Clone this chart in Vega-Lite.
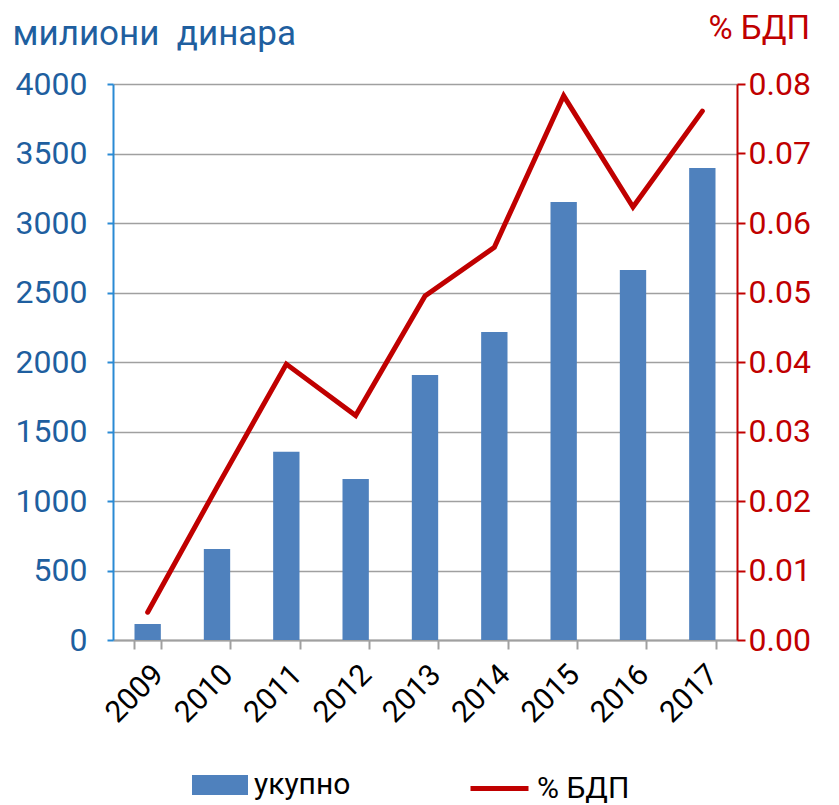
{
  "$schema": "https://vega.github.io/schema/vega-lite/v6.json",
  "width": 624,
  "height": 556,
  "autosize": {"type": "none"},
  "padding": {"left": 113, "top": 84, "right": 102, "bottom": 165},
  "background": "white",
  "config": {"font": "Roboto", "view": {"stroke": null}},
  "data": {
    "values": [
      {"year": "2009", "total": 115, "gdp": 0.004},
      {"year": "2010", "total": 655, "gdp": 0.022},
      {"year": "2011", "total": 1355, "gdp": 0.0397},
      {"year": "2012", "total": 1158, "gdp": 0.0323},
      {"year": "2013", "total": 1906, "gdp": 0.0495},
      {"year": "2014", "total": 2216, "gdp": 0.0565},
      {"year": "2015", "total": 3151, "gdp": 0.0783},
      {"year": "2016", "total": 2662, "gdp": 0.0623},
      {"year": "2017", "total": 3396, "gdp": 0.0761}
    ]
  },
  "encoding": {
    "x": {
      "field": "year",
      "type": "ordinal",
      "scale": {"paddingInner": 0.62, "paddingOuter": 0.31},
      "axis": {
        "title": null,
        "labelAngle": -45,
        "labelFontSize": 30,
        "labelColor": "black",
        "labelPadding": 10,
        "domainColor": "#A0A0A0",
        "domainWidth": 2,
        "tickColor": "#A0A0A0",
        "tickWidth": 2,
        "tickSize": 9,
        "tickBand": "extent",
        "grid": false
      }
    }
  },
  "layer": [
    {
      "mark": {"type": "bar"},
      "encoding": {
        "y": {
          "field": "total",
          "type": "quantitative",
          "scale": {"domain": [0, 4000], "nice": false},
          "axis": {
            "title": "милиони\u00a0 динара",
            "titleAngle": 0,
            "titleAlign": "left",
            "titleBaseline": "alphabetic",
            "titleX": -101,
            "titleY": -40,
            "titleFontSize": 35,
            "titleFontWeight": "normal",
            "titleColor": "#1F5F9F",
            "values": [0, 500, 1000, 1500, 2000, 2500, 3000, 3500, 4000],
            "format": "d",
            "labelFontSize": 32,
            "labelColor": "#1F5F9F",
            "labelPadding": 20,
            "domainColor": "#2A8AD4",
            "domainWidth": 2,
            "tickColor": "#2A8AD4",
            "tickWidth": 2,
            "tickSize": 6,
            "grid": true,
            "gridColor": "#A0A0A0",
            "gridWidth": 1.5
          }
        },
        "fill": {
          "datum": "укупно",
          "scale": {"domain": ["укупно"], "range": ["#4F81BD"]},
          "legend": {
            "orient": "none",
            "legendX": 79,
            "legendY": 673,
            "title": null,
            "symbolType": "M-1,-0.36H1V0.36H-1Z",
            "symbolSize": 3136,
            "symbolStrokeWidth": 0,
            "labelFontSize": 30,
            "labelColor": "black",
            "labelOffset": 6
          }
        }
      }
    },
    {
      "mark": {"type": "line", "strokeWidth": 5, "strokeCap": "round"},
      "encoding": {
        "y": {
          "field": "gdp",
          "type": "quantitative",
          "scale": {"domain": [0, 0.08], "nice": false},
          "axis": {
            "orient": "right",
            "title": "% БДП",
            "titleAngle": 0,
            "titleAlign": "left",
            "titleBaseline": "alphabetic",
            "titleX": -29,
            "titleY": -46,
            "titleFontSize": 33,
            "titleFontWeight": "normal",
            "titleColor": "#C00000",
            "values": [0, 0.01, 0.02, 0.03, 0.04, 0.05, 0.06, 0.07, 0.08],
            "format": ".2f",
            "labelFontSize": 32,
            "labelColor": "#C00000",
            "labelPadding": 3,
            "domainColor": "#C00000",
            "domainWidth": 2,
            "tickColor": "#C00000",
            "tickWidth": 2,
            "tickSize": 8,
            "grid": false
          }
        },
        "stroke": {
          "datum": "% БДП",
          "scale": {"domain": ["% БДП"], "range": ["#C00000"]},
          "legend": {
            "orient": "none",
            "legendX": 355,
            "legendY": 673,
            "title": null,
            "symbolType": "stroke",
            "symbolSize": 3364,
            "symbolStrokeWidth": 5,
            "labelFontSize": 30,
            "labelColor": "black",
            "labelOffset": 6
          }
        }
      }
    }
  ],
  "resolve": {"scale": {"y": "independent", "fill": "independent", "stroke": "independent"}}
}
